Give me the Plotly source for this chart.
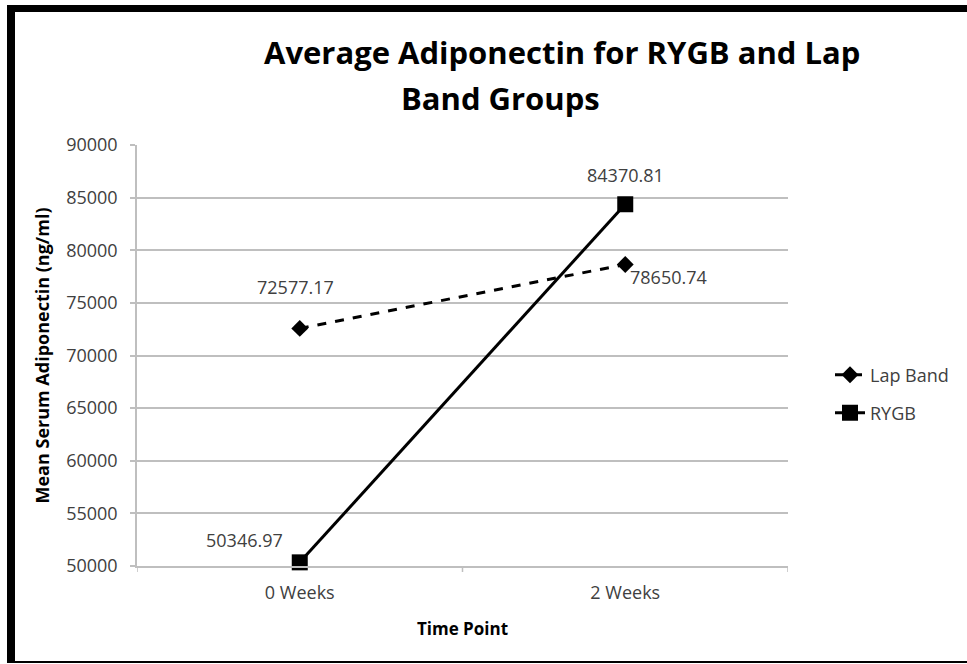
import plotly.graph_objects as go

categories = ["0 Weeks", "2 Weeks"]
lap_band = [72577.17, 78650.74]
rygb = [50346.97, 84370.81]
y_ticks = [50000, 55000, 60000, 65000, 70000, 75000, 80000, 85000, 90000]
y_tick_labels = ["50000", "55000", "60000", "65000", "70000", "75000", "80000", "85000", "90000"]

W, H = 967, 664
L, R, T, B = 137, 788, 145, 566
FONT = "Open Sans"
GREY = "#404040"


def px(x):
    return (x - L) / (R - L)


def py(y):
    return (B - y) / (B - T)


fig = go.Figure()
fig.add_trace(go.Scatter(
    x=categories, y=lap_band, name="Lap Band", mode="lines+markers",
    line=dict(color="black", width=3, dash="dash"),
    marker=dict(symbol="diamond", size=13, color="black"),
    legend="legend", cliponaxis=False,
))
fig.add_trace(go.Scatter(
    x=categories, y=rygb, name="RYGB", mode="lines+markers",
    line=dict(color="black", width=3),
    marker=dict(symbol="square", size=16, color="black"),
    legend="legend2", cliponaxis=False,
))

label_font = dict(family=FONT, size=18, color=GREY)
# data labels: (series, index, xshift, yshift, anchor)
for vals, i, dx, dy, xa in [
    (lap_band, 0, -4, 41, "center"),
    (lap_band, 1, 3, -13, "left"),
    (rygb, 0, -15, 22, "right"),
    (rygb, 1, 0, 29, "center"),
]:
    fig.add_annotation(
        x=categories[i], y=vals[i], text=f"{vals[i]:.2f}", showarrow=False,
        xshift=dx, yshift=dy, xanchor=xa, yanchor="middle", font=label_font,
    )

# title lines
fig.add_annotation(
    xref="paper", yref="paper", x=px(562), y=py(52), text="<b>Average Adiponectin for RYGB and Lap</b>",
    showarrow=False, xanchor="center", yanchor="middle",
    font=dict(family=FONT, size=31, color="black"),
)
fig.add_annotation(
    xref="paper", yref="paper", x=px(501), y=py(98), text="<b>Band Groups</b>",
    showarrow=False, xanchor="center", yanchor="middle",
    font=dict(family=FONT, size=31, color="black"),
)

# border frame (left thick, top thick, bottom thin)
for x0, y0, x1, y1 in [(7, 5, 15, 663), (7, 5, 967, 12), (7, 661, 967, 663)]:
    fig.add_shape(type="rect", xref="paper", yref="paper",
                  x0=px(x0), x1=px(x1), y0=py(y0), y1=py(y1),
                  fillcolor="black", line=dict(width=0), layer="above")

fig.update_layout(
    width=W, height=H,
    margin=dict(l=L, r=W - R, t=T, b=H - B),
    paper_bgcolor="white", plot_bgcolor="white",
    font=dict(family=FONT, size=18, color=GREY),
    xaxis=dict(
        type="category", range=[-0.5, 1.5],
        showgrid=False, showline=True, linecolor="#bfbfbf", linewidth=1.5,
        ticks="", tickfont=dict(family=FONT, size=18, color=GREY),
        ticklabelstandoff=10,
        title=dict(text="<b>Time Point</b>", font=dict(family=FONT, size=17, color="black"), standoff=20),
        zeroline=False,
    ),
    yaxis=dict(
        range=[50000, 90000], tickvals=y_ticks, ticktext=y_tick_labels,
        showgrid=True, gridcolor="#bfbfbf", gridwidth=1.5,
        showline=True, linecolor="#bfbfbf", linewidth=1.5,
        ticks="outside", ticklen=5, tickcolor="#bfbfbf", tickwidth=1.5,
        ticklabelstandoff=9,
        tickfont=dict(family=FONT, size=18, color=GREY),
        title=dict(text="<b>Mean Serum Adiponectin (ng/ml)</b>", font=dict(family=FONT, size=18, color="black"), standoff=12),
        zeroline=False,
    ),
    legend=dict(x=px(830), y=py(375), xanchor="left", yanchor="middle",
                font=dict(family=FONT, size=18, color=GREY), bgcolor="rgba(0,0,0,0)"),
    legend2=dict(x=px(830), y=py(413), xanchor="left", yanchor="middle",
                 font=dict(family=FONT, size=18, color=GREY), bgcolor="rgba(0,0,0,0)"),
    showlegend=True,
)

# x-axis boundary ticks at category edges
for xb in [-0.5, 0.5, 1.5]:
    fig.add_shape(type="line", xref="x", yref="paper", x0=xb, x1=xb,
                  y0=0, y1=py(B + 6), line=dict(color="#bfbfbf", width=1.5))

fig.write_html("out.html", config={"displayModeBar": False},
               post_script="document.body.style.margin='0px';")
